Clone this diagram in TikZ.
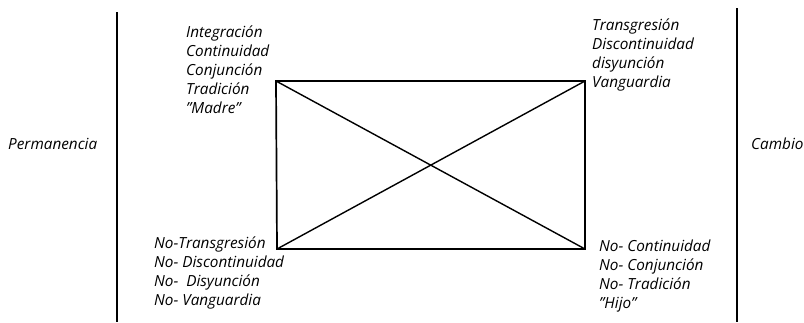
\documentclass[tikz,border=0pt]{standalone}
\usepackage{fontspec}
\setmainfont{Open Sans}
\usetikzlibrary{positioning}
\tikzset{
    sideline/.style={
        line width=1.7pt,
        black
    },
    % texto en cursiva de los bloques
    blocktext/.style={
        font=\itshape\fontsize{15.3}{19}\selectfont,
        align=left,
        inner sep=0pt,
        anchor=west
    }
}
\begin{document}
\begin{tikzpicture}[x=1pt,y=-1pt]
    \useasboundingbox (0,0) rectangle (804,322);

    \coordinate (lt) at (117,12);
    \coordinate (lb) at (117,322);
    \coordinate (rt) at (737,8);
    \coordinate (rb) at (737,322);
    \draw[sideline] (lt) -- (lb);
    \draw[sideline] (rt) -- (rb);

    \coordinate (nw) at (276,81);
    \coordinate (ne) at (585,81);
    \coordinate (sw) at (277,249);
    \coordinate (se) at (585,249);
    \draw[sideline] (nw) -- (ne) -- (se) -- (sw) -- cycle;
    \draw[line width=1.4pt] (nw) -- (se);
    \draw[line width=1.4pt] (sw) -- (ne);

    \node[blocktext] (perm) at (8,144) {Permanencia};
    \node[blocktext] (camb) at (751,144) {Cambio};

    \node[blocktext] (madre) at (186,70) {Integración\\Continuidad\\Conjunción\\Tradición\\"Madre"};
    \node[blocktext] (vang) at (592,55) {Transgresión\\Discontinuidad\\disyunción\\Vanguardia};
    \node[blocktext] (notr) at (154,273) {No-Transgresión\\No- Discontinuidad\\No-\ \ Disyunción\\No- Vanguardia};
    \node[blocktext] (hijo) at (599,276) {No- Continuidad\\No- Conjunción\\No- Tradición\\"Hijo"};
\end{tikzpicture}
\end{document}
